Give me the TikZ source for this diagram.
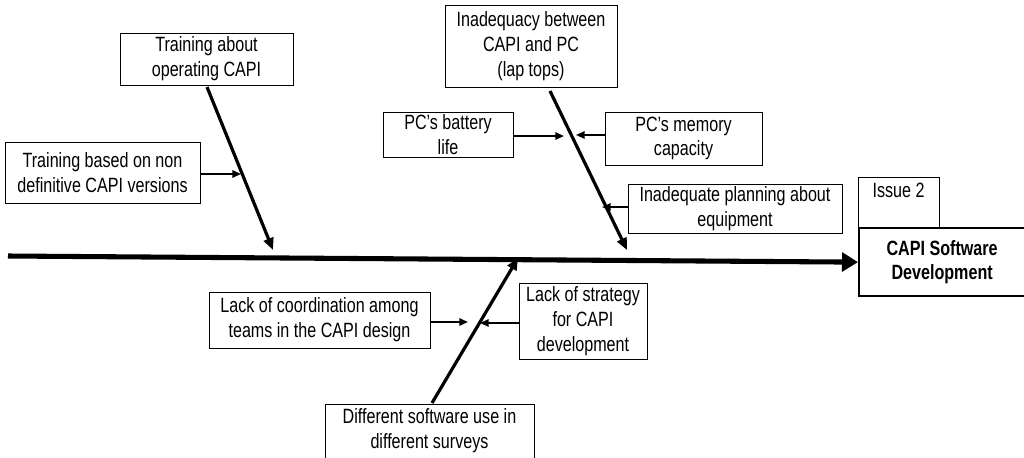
\documentclass[tikz,border=0pt]{standalone}
\usepackage{fontspec}
\setmainfont[FakeStretch=0.78]{Liberation Sans}
\usetikzlibrary{arrows.meta}
\tikzset{
  txt/.style={inner sep=0pt, align=center, font=\fontsize{15.5}{18.6}\selectfont},
  box/.style 2 args={draw, line width=0.75pt, minimum width={#1*0.75pt}, minimum height={#2*0.75pt}, txt},
  bone/.style={line width=2.4pt, -{Triangle[length=9pt,width=7.5pt]}},
  twig/.style={line width=1.4pt, -{Triangle[length=6.5pt,width=5.5pt]}},
  spine/.style={line width=3.8pt, -{Triangle[length=12pt,width=14pt]}}
}
\begin{document}
\begin{tikzpicture}[x=0.75pt,y=-0.75pt]
\useasboundingbox (0,0) rectangle (1024,457);
\clip (0,0) rectangle (1024,457);
% effect
\node[box={81}{50}, anchor=north west] (issue) at (858,177) {};
\node[txt, anchor=north] (issuet) at (898.5,183) {Issue 2};
\node[box={166}{68}, line width=1.7pt, anchor=north west, font=\bfseries\fontsize{15.5}{18.6}\selectfont] (capi) at (858,227) {CAPI Software\\Development};
% spine
\coordinate (tail) at (8,256);
\draw[spine] (tail) -- (capi.west);
% upper-left bone
\node[box={173}{52}] (tr1) at (206.5,59) {Training about\\operating CAPI};
\coordinate (b1s) at (207,87);
\coordinate (b1e) at (273,250);
\draw[bone] (b1s) -- (b1e);
\node[box={195}{61}] (tr2) at (102.5,172.5) {Training based on non\\definitive CAPI versions};
\coordinate (t2) at (241,174);
\draw[twig] (tr2.east |- t2) -- (t2);
% upper-right bone
\node[box={172}{82}] (inad) at (531,46) {Inadequacy between\\CAPI and PC\\(lap tops)};
\coordinate (b2s) at (550,91);
\coordinate (b2e) at (627,250);
\draw[bone] (b2s) -- (b2e);
\node[box={130}{45}] (bat) at (448,134.5) {PC's battery\\life};
\coordinate (t3) at (564,136);
\draw[twig] (bat.east |- t3) -- (t3);
\node[box={157}{53}] (mem) at (683.5,138.5) {PC's memory\\capacity};
\coordinate (t4) at (576,135);
\draw[twig] (mem.west |- t4) -- (t4);
\node[box={214}{49}] (plan) at (735,208.5) {Inadequate planning about\\equipment};
\coordinate (t5) at (602,207);
\draw[twig] (plan.west |- t5) -- (t5);
% lower bone
\node[box={209}{70}, anchor=north west] (diff) at (325,404) {};
\node[txt] (difft) at (429.5,431) {Different software use in\\different surveys};
\coordinate (b3s) at (432,403);
\coordinate (b3e) at (518,258);
\draw[bone] (b3s) -- (b3e);
\node[box={221}{56}] (coord) at (319.5,320) {Lack of coordination among\\teams in the CAPI design};
\coordinate (t6) at (468,322);
\draw[twig] (coord.east |- t6) -- (t6);
\node[box={128}{76}] (strat) at (583,321) {Lack of strategy\\for CAPI\\development};
\coordinate (t7) at (480,323);
\draw[twig] (strat.west |- t7) -- (t7);
\end{tikzpicture}
\end{document}
